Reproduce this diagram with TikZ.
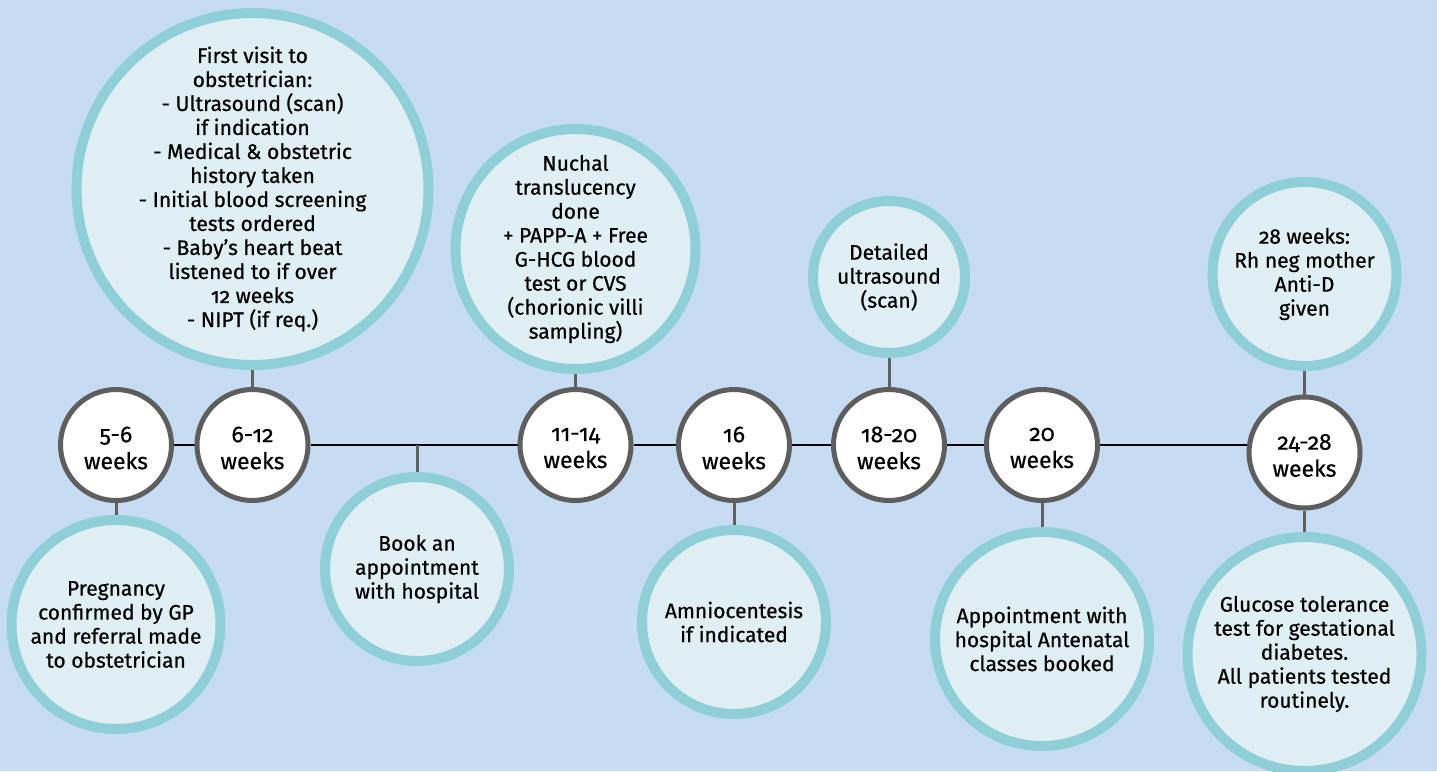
\documentclass[tikz,border=0pt]{standalone}
\usepackage{fontspec}
\setmainfont{Fira Sans}[Numbers=OldStyle,FakeBold=0.6]
\usetikzlibrary{backgrounds}
\definecolor{bgblue}{HTML}{C5DCF2}
\definecolor{infofill}{HTML}{E0EFF3}
\definecolor{tealring}{HTML}{8ECFD8}
\definecolor{ringgrey}{HTML}{5E5E5E}
\definecolor{stemgrey}{HTML}{606060}
\begin{document}
\begin{tikzpicture}[x=1pt,y=-1pt,
  week/.style={circle,draw=ringgrey,line width=5pt,fill=white,minimum size=111pt,inner sep=0pt},
  weektext/.style={align=center,inner sep=0pt,yshift=-3pt,font=\fontsize{23}{27}\selectfont},
  info/.style={circle,draw=tealring,line width=10pt,fill=infofill,inner sep=0pt},
  infotext/.style={align=center,inner sep=0pt,font=\fontsize{21}{24}\selectfont},
  timeline/.style={draw=black,line width=2.5pt},
  stem/.style={draw=stemgrey,line width=3pt}]
\useasboundingbox (0,0) rectangle (1437,771);

% week circles
\node[week,label={[weektext]center:{5-6\\weeks}}]   (p5)  at (116,445)    {};
\node[week,label={[weektext]center:{6-12\\weeks}}]  (p6)  at (252.5,445)  {};
\node[week,label={[weektext]center:{11-14\\weeks}}] (p11) at (575.5,445)  {};
\node[week,label={[weektext]center:{16\\weeks}}]    (p16) at (734,445)    {};
\node[week,label={[weektext]center:{18-20\\weeks}}] (p18) at (889,445)    {};
\node[week,label={[weektext]center:{20\\weeks}}]    (p20) at (1042,445)   {};
\node[week,label={[weektext]center:{24-28\\weeks}}] (p24) at (1304.5,452.5) {};
\coordinate (bk) at (417,445);

% info circles above
\node[info,minimum size=352pt,label={[infotext]center:{First visit to\\obstetrician:\\- Ultrasound (scan)\\if indication\\- Medical \& obstetric\\history taken\\- Initial blood screening\\tests ordered\\- Baby’s heart beat\\listened to if over\\12 weeks\\- NIPT (if req.)}}] (t6) at (252.5,189) {};
\node[info,minimum size=240pt,label={[infotext]center:{Nuchal\\translucency\\done\\+ PAPP-A + Free\\G-HCG blood\\test or CVS\\(chorionic villi\\sampling)}}] (t11) at (575.5,249) {};
\node[info,minimum size=152pt,label={[infotext]center:{Detailed\\ultrasound\\(scan)}}] (t18) at (889,277) {};
\node[info,minimum size=184pt,label={[infotext]center:{28 weeks:\\Rh neg mother\\Anti-D\\given}}] (t24) at (1304.5,274) {};

% info circles below
\node[info,minimum size=209pt,label={[infotext]center:{Pregnancy\\confirmed by GP\\and referral made\\to obstetrician}}] (b5) at (116,624.5) {};
\node[info,minimum size=184pt,label={[infotext]center:{Book an\\appointment\\with hospital}}] (book) at (417,569) {};
\node[info,minimum size=184pt,label={[infotext]center:{Amniocentesis\\if indicated}}] (b16) at (734,622) {};
\node[info,minimum size=214pt,label={[infotext]center:{Appointment with\\hospital Antenatal\\classes booked}}] (b20) at (1042,639) {};
\node[info,minimum size=234pt,label={[infotext]center:{Glucose tolerance\\test for gestational\\diabetes.\\All patients tested\\routinely.}}] (b24) at (1304.5,654) {};

\begin{scope}[on background layer]
  \fill[bgblue] (0,0) rectangle (1437,771);
  \draw[timeline] (p5) -- (p6) -- (p11) -- (p16) -- (p18) -- (p20) -- (p20 -| p24);
  \draw[stem] (p6) -- (t6);
  \draw[stem] (p11) -- (t11);
  \draw[stem] (p18) -- (t18);
  \draw[stem] (p24) -- (t24);
  \draw[stem] (p5) -- (b5);
  \draw[stem] (bk) -- (book);
  \draw[stem] (p16) -- (b16);
  \draw[stem] (p20) -- (b20);
  \draw[stem] (p24) -- (b24);
\end{scope}
\end{tikzpicture}
\end{document}
